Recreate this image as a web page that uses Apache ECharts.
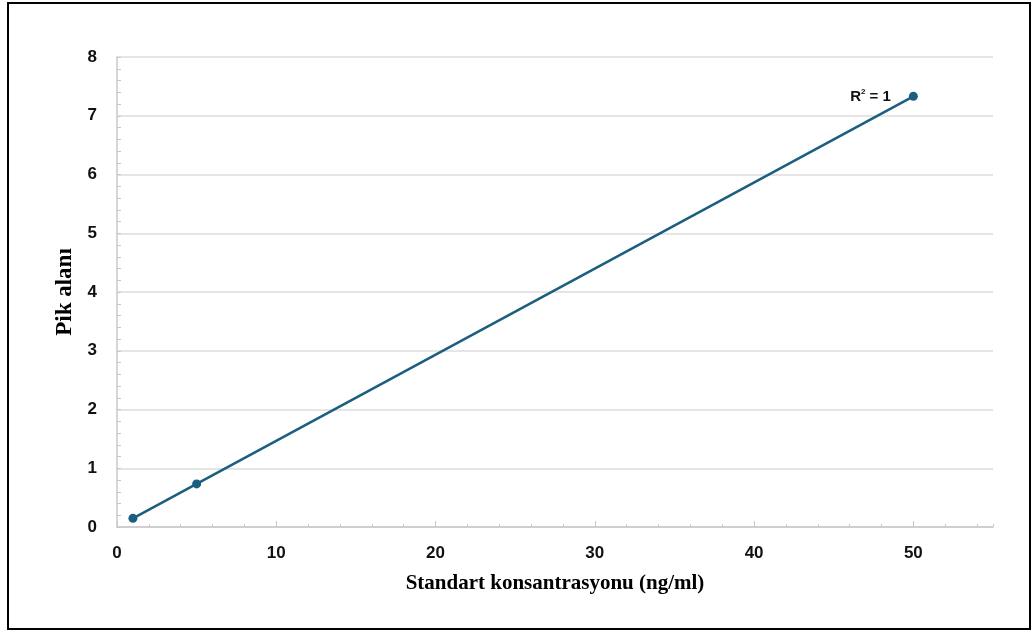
<!DOCTYPE html>
<html>
<head>
<meta charset="utf-8">
<script src="https://cdn.jsdelivr.net/npm/echarts@6/dist/echarts.min.js"></script>
<style>
html, body { margin: 0; padding: 0; background: #fff; }
#chart { width: 1033px; height: 632px; }
</style>
</head>
<body>
<div id="chart"></div>
<script>
var concentrations = [1, 5, 50];
var peakAreas = [0.147, 0.733, 7.33];
var xTicks = [0, 10, 20, 30, 40, 50];
var yTicks = [0, 1, 2, 3, 4, 5, 6, 7, 8];

var points = concentrations.map(function(c, i) { return [c, peakAreas[i]]; });
var lineColor = '#1b5e7f';
var grey = '#c8c8c8';

var chart = echarts.init(document.getElementById('chart'));
chart.setOption({
	animation: false,
	backgroundColor: '#fff',
	graphic: [{
		type: 'rect',
		shape: { x: 8, y: 3, width: 1022, height: 626 },
		style: { fill: 'none', stroke: '#000', lineWidth: 2 }
	}],
	grid: { left: 117, right: 40, top: 57, bottom: 105 },
	xAxis: [{
		type: 'value',
		min: 0,
		max: 55,
		interval: 10,
		name: 'Standart konsantrasyonu (ng/ml)',
		nameLocation: 'middle',
		nameGap: 46,
		nameTextStyle: { fontFamily: 'Liberation Serif', fontWeight: 'bold', fontSize: 21, color: '#000' },
		axisLine: { show: true, lineStyle: { color: grey, width: 1.5 } },
		axisTick: { show: true, inside: true, length: 6, lineStyle: { color: grey } },
		axisLabel: {
			margin: 18, fontFamily: 'Liberation Sans', fontWeight: 'bold', fontSize: 17, color: '#111',
			showMaxLabel: false,
			formatter: function(v) { return xTicks.indexOf(v) >= 0 ? String(v) : ''; }
		},
		splitLine: { show: false }
	}, {
		type: 'value',
		position: 'bottom',
		min: 0,
		max: 55,
		interval: 2,
		axisLine: { show: false },
		axisTick: { show: true, inside: true, length: 3, lineStyle: { color: grey } },
		axisLabel: { show: false },
		splitLine: { show: false }
	}],
	yAxis: {
		type: 'value',
		min: 0,
		max: 8,
		interval: 1,
		name: 'Pik alanı',
		nameLocation: 'middle',
		nameGap: 38,
		nameRotate: 90,
		nameTextStyle: { fontFamily: 'Liberation Serif', fontWeight: 'bold', fontSize: 23, color: '#000' },
		axisLine: { show: true, lineStyle: { color: grey, width: 1.5 } },
		axisTick: { show: true, inside: true, length: 4, lineStyle: { color: grey } },
		minorTick: { show: true, splitNumber: 5, length: 4, lineStyle: { color: grey } },
		axisLabel: {
			margin: 20, fontFamily: 'Liberation Sans', fontWeight: 'bold', fontSize: 17, color: '#111',
			formatter: function(v) { return yTicks.indexOf(v) >= 0 ? String(v) : ''; }
		},
		splitLine: { show: true, lineStyle: { color: '#dcdcdc', width: 1.5 } }
	},
	series: [{
		type: 'line',
		xAxisIndex: 0,
		data: points,
		symbol: 'circle',
		symbolSize: 9,
		itemStyle: { color: lineColor },
		lineStyle: { color: lineColor, width: 2.5 },
		label: {
			show: true,
			position: 'left',
			distance: 18,
			formatter: function(p) { return p.dataIndex === points.length - 1 ? '{r|R}{s|2}{r| = 1}' : ''; },
			rich: {
				r: { fontFamily: 'Liberation Sans', fontWeight: 'bold', fontSize: 15, color: '#111' },
				s: { fontFamily: 'Liberation Sans', fontWeight: 'bold', fontSize: 8, color: '#111', verticalAlign: 'top', padding: [0, 0, 9, 0] }
			}
		}
	}]
});
</script>
</body>
</html>
